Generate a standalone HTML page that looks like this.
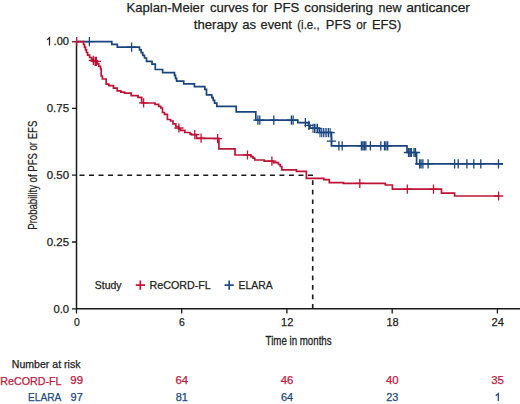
<!DOCTYPE html>
<html><head><meta charset="utf-8"><style>
html,body{margin:0;padding:0;background:#fff;width:520px;height:404px;overflow:hidden;}
svg{display:block;font-family:"Liberation Sans",sans-serif;}
</style></head><body>
<svg width="520" height="404" viewBox="0 0 520 404">
<text x="126.50" y="11.80" font-size="13.4" fill="#222" textLength="77.75" lengthAdjust="spacingAndGlyphs" stroke="#222" stroke-width="0.25">Kaplan-Meier</text>
<text x="210.00" y="11.80" font-size="13.4" fill="#222" textLength="38.52" lengthAdjust="spacingAndGlyphs" stroke="#222" stroke-width="0.25">curves</text>
<text x="252.30" y="11.80" font-size="13.4" fill="#222" textLength="15.48" lengthAdjust="spacingAndGlyphs" stroke="#222" stroke-width="0.25">for</text>
<text x="273.70" y="11.80" font-size="13.4" fill="#222" textLength="25.51" lengthAdjust="spacingAndGlyphs" stroke="#222" stroke-width="0.25">PFS</text>
<text x="304.20" y="11.80" font-size="13.4" fill="#222" textLength="68.93" lengthAdjust="spacingAndGlyphs" stroke="#222" stroke-width="0.25">considering</text>
<text x="378.50" y="11.80" font-size="13.4" fill="#222" textLength="22.92" lengthAdjust="spacingAndGlyphs" stroke="#222" stroke-width="0.25">new</text>
<text x="406.20" y="11.80" font-size="13.4" fill="#222" textLength="63.76" lengthAdjust="spacingAndGlyphs" stroke="#222" stroke-width="0.25">anticancer</text>
<text x="193.80" y="29.10" font-size="13.4" fill="#222" textLength="43.89" lengthAdjust="spacingAndGlyphs" stroke="#222" stroke-width="0.25">therapy</text>
<text x="242.30" y="29.10" font-size="13.4" fill="#222" textLength="13.90" lengthAdjust="spacingAndGlyphs" stroke="#222" stroke-width="0.25">as</text>
<text x="260.60" y="29.10" font-size="13.4" fill="#222" textLength="31.27" lengthAdjust="spacingAndGlyphs" stroke="#222" stroke-width="0.25">event</text>
<text x="297.30" y="29.10" font-size="13.4" fill="#222" textLength="22.31" lengthAdjust="spacingAndGlyphs" stroke="#222" stroke-width="0.25">(i.e.,</text>
<text x="325.80" y="29.10" font-size="13.4" fill="#222" textLength="25.31" lengthAdjust="spacingAndGlyphs" stroke="#222" stroke-width="0.25">PFS</text>
<text x="356.30" y="29.10" font-size="13.4" fill="#222" textLength="10.42" lengthAdjust="spacingAndGlyphs" stroke="#222" stroke-width="0.25">or</text>
<text x="371.90" y="29.10" font-size="13.4" fill="#222" textLength="29.37" lengthAdjust="spacingAndGlyphs" stroke="#222" stroke-width="0.25">EFS)</text>
<path d="M76.5 41.6V308.8H520" fill="none" stroke="#1a1a1a" stroke-width="1.5"/>
<path d="M72 41.6h4.5 M72 108.4h4.5 M72 175.2h4.5 M72 242.0h4.5 M72 308.8h4.5 M76.5 308.8v4.6 M181.7 308.8v4.6 M286.9 308.8v4.6 M392.2 308.8v4.6 M497.4 308.8v4.6" stroke="#1a1a1a" stroke-width="1.3"/>
<text x="53.60" y="45.40" font-size="11.0" fill="#222" textLength="15.44" lengthAdjust="spacingAndGlyphs" stroke="#222" stroke-width="0.25">.00</text>
<path d="M47.1 39.9L49.5 37.7V45.4" fill="none" stroke="#222" stroke-width="1.25"/>
<text x="46.70" y="112.20" font-size="11.0" fill="#222" textLength="22.33" lengthAdjust="spacingAndGlyphs" stroke="#222" stroke-width="0.25">0.75</text>
<text x="46.70" y="179.00" font-size="11.0" fill="#222" textLength="22.33" lengthAdjust="spacingAndGlyphs" stroke="#222" stroke-width="0.25">0.50</text>
<text x="46.70" y="245.80" font-size="11.0" fill="#222" textLength="22.33" lengthAdjust="spacingAndGlyphs" stroke="#222" stroke-width="0.25">0.25</text>
<text x="53.40" y="312.60" font-size="11.0" fill="#222" textLength="15.64" lengthAdjust="spacingAndGlyphs" stroke="#222" stroke-width="0.25">0.0</text>
<text x="73.90" y="325.70" font-size="11.0" fill="#222" textLength="5.79" lengthAdjust="spacingAndGlyphs" stroke="#222" stroke-width="0.25">0</text>
<text x="179.10" y="325.70" font-size="11.0" fill="#222" textLength="5.79" lengthAdjust="spacingAndGlyphs" stroke="#222" stroke-width="0.25">6</text>
<text x="281.10" y="325.70" font-size="11.0" fill="#222" textLength="12.18" lengthAdjust="spacingAndGlyphs" stroke="#222" stroke-width="0.25">12</text>
<text x="386.40" y="325.70" font-size="11.0" fill="#222" textLength="12.18" lengthAdjust="spacingAndGlyphs" stroke="#222" stroke-width="0.25">18</text>
<text x="491.50" y="325.70" font-size="11.0" fill="#222" textLength="12.38" lengthAdjust="spacingAndGlyphs" stroke="#222" stroke-width="0.25">24</text>
<text x="298.6" y="344.7" text-anchor="middle" font-size="13.3" fill="#222" textLength="66" lengthAdjust="spacingAndGlyphs" stroke="#222" stroke-width="0.3">Time in months</text>
<text transform="translate(37.3 175.2) rotate(-90)" x="0" y="0" text-anchor="middle" font-size="13.1" fill="#222" textLength="109" lengthAdjust="spacingAndGlyphs" stroke="#222" stroke-width="0.2">Probability of PFS or EFS</text>
<path d="M79.50 175.2h5.00 M89.02 175.2h5.00 M98.54 175.2h5.00 M108.06 175.2h5.00 M117.58 175.2h5.00 M127.10 175.2h5.00 M136.62 175.2h5.00 M146.14 175.2h5.00 M155.66 175.2h5.00 M165.18 175.2h5.00 M174.70 175.2h5.00 M184.22 175.2h5.00 M193.74 175.2h5.00 M203.26 175.2h5.00 M212.78 175.2h5.00 M222.30 175.2h5.00 M231.82 175.2h5.00 M241.34 175.2h5.00 M250.86 175.2h5.00 M260.38 175.2h5.00 M269.90 175.2h5.00 M279.42 175.2h5.00 M288.94 175.2h5.00 M298.46 175.2h5.00 M307.98 175.2h5.00 M312.7 308.80v-4.7 M312.7 299.28v-4.7 M312.7 289.76v-4.7 M312.7 280.24v-4.7 M312.7 270.72v-4.7 M312.7 261.20v-4.7 M312.7 251.68v-4.7 M312.7 242.16v-4.7 M312.7 232.64v-4.7 M312.7 223.12v-4.7 M312.7 213.60v-4.7 M312.7 204.08v-4.7 M312.7 194.56v-4.7 M312.7 185.04v-4.7" stroke="#1a1a1a" stroke-width="1.6" fill="none"/>
<path d="M76.5 41.6 H111.8 V44.4 H117.3 V47.2 H139.5 V49.9 H141.2 V52.6 H142.8 V55.3 H144.5 V58 H146.5 V61.3 H152 V64.1 H155.3 V69.5 H162.6 V72.6 H174.5 V75.4 H175.5 V78.3 H176.6 V81.1 H183.7 V83.9 H194.4 V86.6 H204.8 V89.4 H206.5 V94.9 H211.8 V97.6 H213.2 V100.3 H214.6 V103.1 H216.8 V106.4 H236.2 V111.9 H255.8 V120.1 H297.8 V122.7 H308.6 V125.4 H310 V128.2 H319.3 V132.4 H331.5 V145.8 H407 V152.5 H416.6 V163.9 H503" fill="none" stroke="#1a4480" stroke-width="1.7"/>
<path d="M84.80 41.60h9.20M89.40 37.00v9.20 M127.00 47.20h9.20M131.60 42.60v9.20 M253.30 120.10h9.20M257.90 115.50v9.20 M255.20 120.10h9.20M259.80 115.50v9.20 M269.20 120.10h9.20M273.80 115.50v9.20 M286.80 120.10h9.20M291.40 115.50v9.20 M288.50 120.10h9.20M293.10 115.50v9.20 M300.80 122.70h9.20M305.40 118.10v9.20 M304.30 125.40h9.20M308.90 120.80v9.20 M326.90 141.10h9.20M331.50 136.50v9.20 M334.30 145.80h9.20M338.90 141.20v9.20 M337.60 145.80h9.20M342.20 141.20v9.20 M356.80 145.80h9.20M361.40 141.20v9.20 M358.30 145.80h9.20M362.90 141.20v9.20 M359.80 145.80h9.20M364.40 141.20v9.20 M361.30 145.80h9.20M365.90 141.20v9.20 M365.80 145.80h9.20M370.40 141.20v9.20 M376.20 145.80h9.20M380.80 141.20v9.20 M379.90 145.80h9.20M384.50 141.20v9.20 M381.40 145.80h9.20M386.00 141.20v9.20 M383.10 145.80h9.20M387.70 141.20v9.20 M403.90 152.50h9.20M408.50 147.90v9.20 M405.40 152.50h9.20M410.00 147.90v9.20 M406.80 152.50h9.20M411.40 147.90v9.20 M409.40 152.50h9.20M414.00 147.90v9.20 M410.90 152.50h9.20M415.50 147.90v9.20 M415.00 163.90h9.20M419.60 159.30v9.20 M416.50 163.90h9.20M421.10 159.30v9.20 M418.30 163.90h9.20M422.90 159.30v9.20 M423.50 163.90h9.20M428.10 159.30v9.20 M450.00 163.90h9.20M454.60 159.30v9.20 M453.60 163.90h9.20M458.20 159.30v9.20 M462.30 163.90h9.20M466.90 159.30v9.20 M469.20 163.90h9.20M473.80 159.30v9.20 M476.20 163.90h9.20M480.80 159.30v9.20 M493.90 163.90h9.20M498.50 159.30v9.20" fill="none" stroke="#1a4480" stroke-width="1.3"/>
<path d="M308.40 128.40h9.20M313.00 123.80v9.20 M309.90 128.40h9.20M314.50 123.80v9.20 M311.40 128.40h9.20M316.00 123.80v9.20 M312.90 128.40h9.20M317.50 123.80v9.20 M315.40 132.60h9.20M320.00 128.00v9.20 M317.10 132.60h9.20M321.70 128.00v9.20 M318.80 132.60h9.20M323.40 128.00v9.20 M320.50 132.60h9.20M325.10 128.00v9.20 M322.20 132.60h9.20M326.80 128.00v9.20 M323.90 132.60h9.20M328.50 128.00v9.20 M325.60 132.60h9.20M330.20 128.00v9.20" fill="none" stroke="#1a4480" stroke-width="1.05"/>
<path d="M76.5 41.6 H83.5 V44.5 H84.5 V47.2 H85.5 V49.9 H86.5 V52.5 H87.6 V55.2 H89.6 V57.5 H91.6 V59.3 H93.2 V61.3 H97.4 V63.8 H98.8 V66.3 H100.6 V69 H101.2 V76 H102.4 V79 H106.2 V84.2 H108.8 V85.6 H113.5 V88.2 H117.2 V90.9 H120.8 V92.1 H124.5 V93.1 H131.2 V95.7 H138 V97.4 H141.7 V103 H155 V104.3 H158.7 V106.4 H160.8 V108 H162.5 V112.5 H164.5 V114.4 H167.4 V119.5 H170.6 V121 H173 V123.8 H175.8 V126.5 H178.5 V128.8 H180.4 V130.4 H184.8 V132.5 H190 V133.8 H191.5 V134.7 H196.5 V138.4 H218.9 V148.9 H235 V155 H250.8 V156.6 H253 V158.2 H254.8 V160 H264.2 V161.2 H273.5 V162.6 H278.5 V164.5 H280.3 V166.5 H281.8 V169.8 H296.5 V171.3 H306.4 V178.4 H323.8 V179.6 H329.3 V182.6 H343.4 V183.3 H385.3 V185 H392.4 V189.2 H441.5 V193.2 H454.6 V196 H498.6" fill="none" stroke="#bd1436" stroke-width="1.7"/>
<path d="M72.10 41.60h9.20M76.70 37.00v9.20 M88.70 60.30h9.20M93.30 55.70v9.20 M90.50 61.30h9.20M95.10 56.70v9.20 M91.80 61.30h9.20M96.40 56.70v9.20 M139.00 102.80h9.20M143.60 98.20v9.20 M174.30 128.00h9.20M178.90 123.40v9.20 M190.20 134.70h9.20M194.80 130.10v9.20 M196.50 138.20h9.20M201.10 133.60v9.20 M213.00 138.60h9.20M217.60 134.00v9.20 M242.90 155.00h9.20M247.50 150.40v9.20 M267.30 161.10h9.20M271.90 156.50v9.20 M355.20 183.30h9.20M359.80 178.70v9.20 M402.70 189.20h9.20M407.30 184.60v9.20 M428.90 189.20h9.20M433.50 184.60v9.20 M494.00 196.00h9.20M498.60 191.40v9.20" fill="none" stroke="#bd1436" stroke-width="1.3"/>
<text x="94.80" y="288.80" font-size="10.4" fill="#222" textLength="26.80" lengthAdjust="spacingAndGlyphs" stroke="#222" stroke-width="0.25">Study</text>
<path d="M135.8 285.1h9.2M140.3 280.5v9.2" stroke="#c8123c" stroke-width="1.7"/>
<text x="149.60" y="288.80" font-size="10.4" fill="#222" textLength="61.20" lengthAdjust="spacingAndGlyphs" stroke="#222" stroke-width="0.25">ReCORD-FL</text>
<path d="M224.6 285.1h9.2M229.2 280.5v9.2" stroke="#1f4c8a" stroke-width="1.7"/>
<text x="238.50" y="288.80" font-size="10.4" fill="#222" textLength="34.10" lengthAdjust="spacingAndGlyphs" stroke="#222" stroke-width="0.25">ELARA</text>
<text x="11.80" y="367.50" font-size="10.4" fill="#222" textLength="68.65" lengthAdjust="spacingAndGlyphs" stroke="#222" stroke-width="0.25">Number at risk</text>
<text x="0.30" y="384.50" font-size="10.6" fill="#c0183f" textLength="61.16" lengthAdjust="spacingAndGlyphs" stroke="#c0183f" stroke-width="0.25">ReCORD-FL</text>
<text x="28.00" y="401.10" font-size="10.6" fill="#24497d" textLength="33.37" lengthAdjust="spacingAndGlyphs" stroke="#24497d" stroke-width="0.25">ELARA</text>
<text x="70.35" y="384.40" font-size="10.8" fill="#c0183f" textLength="12.65" lengthAdjust="spacingAndGlyphs" stroke="#c0183f" stroke-width="0.25">99</text>
<text x="70.60" y="400.90" font-size="10.8" fill="#24497d" textLength="12.16" lengthAdjust="spacingAndGlyphs" stroke="#24497d" stroke-width="0.25">97</text>
<text x="175.55" y="384.40" font-size="10.8" fill="#c0183f" textLength="12.65" lengthAdjust="spacingAndGlyphs" stroke="#c0183f" stroke-width="0.25">64</text>
<text x="175.80" y="400.90" font-size="10.8" fill="#24497d" textLength="12.16" lengthAdjust="spacingAndGlyphs" stroke="#24497d" stroke-width="0.25">81</text>
<text x="280.75" y="384.40" font-size="10.8" fill="#c0183f" textLength="12.65" lengthAdjust="spacingAndGlyphs" stroke="#c0183f" stroke-width="0.25">46</text>
<text x="281.00" y="400.90" font-size="10.8" fill="#24497d" textLength="12.16" lengthAdjust="spacingAndGlyphs" stroke="#24497d" stroke-width="0.25">64</text>
<text x="386.05" y="384.40" font-size="10.8" fill="#c0183f" textLength="12.65" lengthAdjust="spacingAndGlyphs" stroke="#c0183f" stroke-width="0.25">40</text>
<text x="386.30" y="400.90" font-size="10.8" fill="#24497d" textLength="12.16" lengthAdjust="spacingAndGlyphs" stroke="#24497d" stroke-width="0.25">23</text>
<text x="491.25" y="384.40" font-size="10.8" fill="#c0183f" textLength="12.65" lengthAdjust="spacingAndGlyphs" stroke="#c0183f" stroke-width="0.25">35</text>
<path d="M495.8 395.7L498.3 393.6V401.0" fill="none" stroke="#24497d" stroke-width="1.3"/>
</svg>
</body></html>
